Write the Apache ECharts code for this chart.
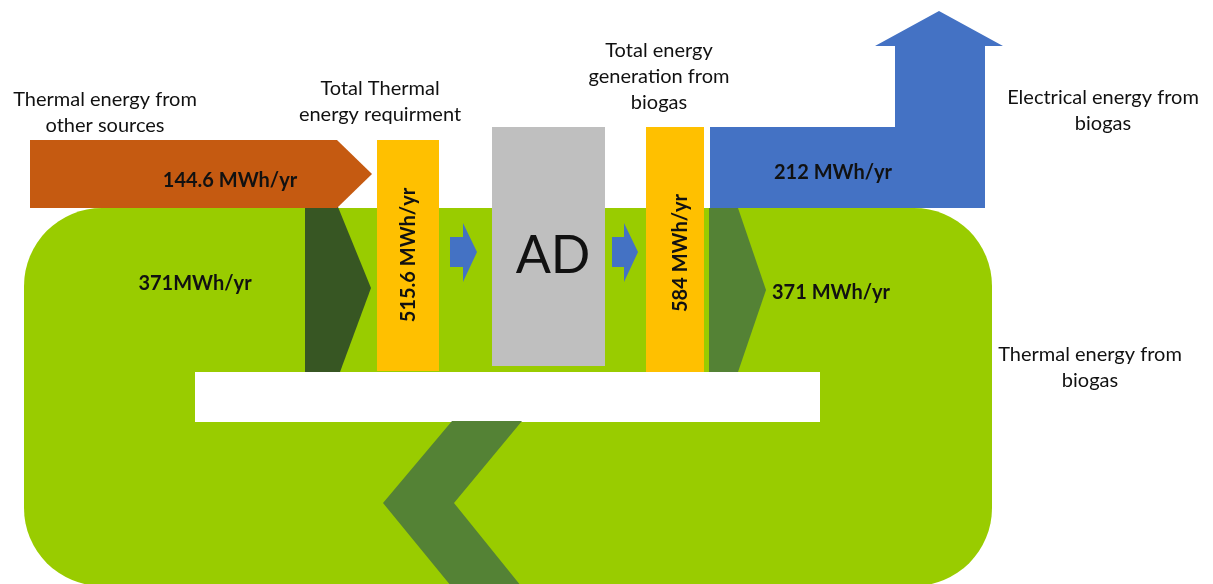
<!DOCTYPE html>
<html>
<head>
<meta charset="utf-8">
<title>Energy flow of the anaerobic digestion plant</title>
<script src="https://cdn.jsdelivr.net/npm/echarts@6/dist/echarts.min.js"></script>
<style>
  html, body { margin: 0; padding: 0; background: #ffffff; }
  #chart { width: 1213px; height: 584px; }
</style>
</head>
<body>
<div id="chart"></div>
<script>
// Annual energy flows (MWh/yr)
const flowKeys   = ['otherSources', 'recycledHeat', 'thermalDemand', 'biogasTotal', 'electrical', 'biogasHeat'];
const flowValues = [144.6, 371, 515.6, 584, 212, 371];
// separator printed between value and unit on each flow label
const unitGaps   = [' ', '', ' ', ' ', ' ', ' '];
const unit = 'MWh/yr';

// Captions around the diagram
const captionTexts = [
  'Thermal energy from\nother sources',
  'Total Thermal\nenergy requirment',
  'Total energy\ngeneration from\nbiogas',
  'Electrical energy from\nbiogas',
  'Thermal energy from\nbiogas'
];
const processName = 'AD';

const flowLabel = i => flowValues[i] + unitGaps[i] + unit;

// ---- layout (diagram units on a hidden 1213 x 584 value grid) ----
const C = {
  green: '#99CC00', darkGreen: '#375623', midGreen: '#548235',
  orange: '#C55A11', yellow: '#FFC000', grey: '#BFBFBF', blue: '#4472C4', white: '#FFFFFF'
};

const shapes = [
  // heat loop body
  { kind: 'rect', x0: 24, y0: 208, x1: 992, y1: 586, r: 78, fill: C.green },
  // inner opening of the loop
  { kind: 'poly', fill: C.white, pts: [[195, 372], [820, 372], [820, 422], [195, 422]] },
  // return chevron at the bottom
  { kind: 'poly', fill: C.midGreen, pts: [[452, 421], [522, 421], [454, 503], [521, 586], [451, 586], [383, 503]] },
  // recycled heat entering demand
  { kind: 'poly', fill: C.darkGreen, pts: [[305, 207], [338, 207], [371, 288], [340, 372], [305, 372]] },
  // recovered heat leaving generation
  { kind: 'poly', fill: C.midGreen, pts: [[709, 208], [738, 208], [766, 290], [738, 372], [709, 372]] },
  // heat from other sources
  { kind: 'poly', fill: C.orange, pts: [[30, 140], [337, 140], [372, 174], [337, 208], [30, 208]] },
  // thermal demand bar
  { kind: 'poly', fill: C.yellow, pts: [[377, 140], [439, 140], [439, 371], [377, 371]] },
  // digester
  { kind: 'poly', fill: C.grey, pts: [[492, 127], [605, 127], [605, 366], [492, 366]] },
  // biogas generation bar
  { kind: 'poly', fill: C.yellow, pts: [[646, 127], [704, 127], [704, 372], [646, 372]] },
  // feed arrows
  { kind: 'poly', fill: C.blue, pts: [[450, 237], [463, 237], [463, 223], [477, 252], [463, 282], [463, 267], [450, 267]] },
  { kind: 'poly', fill: C.blue, pts: [[612, 237], [624, 237], [624, 223], [638, 252], [624, 282], [624, 267], [612, 267]] },
  // electricity export arrow
  { kind: 'poly', fill: C.blue, pts: [[710, 127], [895, 127], [895, 46], [875, 46], [939, 11], [1003, 46], [985, 46], [985, 208], [710, 208]] }
];

const BOLD = 'bold 20px Lato, "Noto Sans", sans-serif';
const REG = '20px Lato, "Noto Sans", sans-serif';

const texts = [
  { text: flowLabel(0), x: 230, y: 181, font: BOLD },
  { text: flowLabel(1), x: 195, y: 284, font: BOLD },
  { text: flowLabel(2), x: 409, y: 255, font: BOLD, rot: Math.PI / 2 },
  { text: flowLabel(3), x: 681, y: 253, font: BOLD, rot: Math.PI / 2 },
  { text: flowLabel(4), x: 833, y: 173, font: BOLD },
  { text: flowLabel(5), x: 831, y: 293, font: BOLD },
  { text: processName, x: 553, y: 256, font: '52px Lato, "Noto Sans", sans-serif' },
  { text: captionTexts[0], x: 105, y: 113, font: REG, lh: 26 },
  { text: captionTexts[1], x: 380, y: 102, font: REG, lh: 26 },
  { text: captionTexts[2], x: 659, y: 77, font: REG, lh: 26 },
  { text: captionTexts[3], x: 1103, y: 111, font: REG, lh: 26 },
  { text: captionTexts[4], x: 1090, y: 368, font: REG, lh: 26 }
];

const chart = echarts.init(document.getElementById('chart'), null, { renderer: 'canvas' });

function renderShape(params, api) {
  const s = shapes[params.dataIndex];
  if (s.kind === 'rect') {
    const p0 = api.coord([s.x0, s.y0]);
    const p1 = api.coord([s.x1, s.y1]);
    const sx = api.size([1, 1]);
    return {
      type: 'rect',
      shape: { x: p0[0], y: p0[1], width: p1[0] - p0[0], height: p1[1] - p0[1], r: s.r * sx[0] },
      style: { fill: s.fill }
    };
  }
  return {
    type: 'polygon',
    shape: { points: s.pts.map(p => api.coord(p)) },
    style: { fill: s.fill }
  };
}

function renderText(params, api) {
  const t = texts[params.dataIndex];
  const p = api.coord([t.x, t.y]);
  return {
    type: 'text',
    x: p[0], y: p[1],
    rotation: t.rot || 0,
    style: {
      text: t.text, font: t.font, fill: '#111111',
      align: 'center', verticalAlign: 'middle',
      lineHeight: t.lh || undefined
    }
  };
}

chart.setOption({
  animation: false,
  grid: { left: 0, right: 0, top: 0, bottom: 0 },
  xAxis: { type: 'value', min: 0, max: 1213, show: false },
  yAxis: { type: 'value', min: 0, max: 584, inverse: true, show: false },
  series: [
    {
      type: 'custom', name: 'flows', silent: true, clip: false,
      renderItem: renderShape,
      data: shapes.map((s, i) => [i])
    },
    {
      type: 'custom', name: 'labels', silent: true, clip: false, z: 5,
      renderItem: renderText,
      data: texts.map((t, i) => [i])
    }
  ]
});
</script>
</body>
</html>
